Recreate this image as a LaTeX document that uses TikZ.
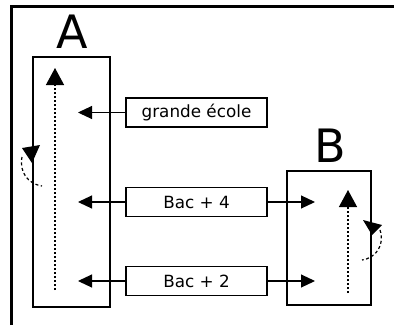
\documentclass[tikz,border=0pt]{standalone}
\usepackage{fontspec}
\setmainfont{DejaVu Sans}
\usetikzlibrary{arrows.meta}

\begin{document}
\begin{tikzpicture}[x=1pt,y=-1pt,
  box/.style={draw,line width=1.2pt,inner sep=0pt},
  level/.style={box,minimum width=141pt,minimum height=29pt,font=\fontsize{16.8}{20}\selectfont},
  letter/.style={anchor=base,inner sep=0pt,font=\fontsize{46}{50}\selectfont},
  flow/.style={line width=1.1pt,-{Triangle[length=14pt,width=13pt]}},
  rise/.style={line width=1.3pt,dash pattern=on 2.5pt off 1.5pt,-{Triangle[length=17pt,width=18pt]}},
  turn/.style={line width=1.2pt,dash pattern=on 3pt off 2.5pt}]
\useasboundingbox (0,0) rectangle (394,325);

% frame
\draw[line width=3pt] (11,325) -- (11,6.5) -- (394,6.5);

% the two schools
\node[box,minimum width=77pt,minimum height=250pt] (A) at (71.5,182) {};
\node[letter] (labA) at (72,48) {A};
\node[box,minimum width=84pt,minimum height=134pt] (B) at (329,238) {};
\node[letter] (labB) at (330,162) {B};

% entry levels
\node[level] (ge) at (196.5,112.5) {grande école};
\node[level] (bac4) at (196.5,202) {Bac + 4};
\node[level] (bac2) at (196.5,281) {Bac + 2};

\coordinate (inA) at (78,0);
\coordinate (inB) at (315,0);
\draw[flow] (ge.west) -- (ge.west -| inA);
\draw[flow] (bac4.west) -- (bac4.west -| inA);
\draw[flow] (bac2.west) -- (bac2.west -| inA);
\draw[flow] (bac4.east) -- (bac4.east -| inB);
\draw[flow] (bac2.east) -- (bac2.east -| inB);

% progress inside each school
\coordinate (a0) at (55,290);
\coordinate (a1) at (55,68);
\draw[rise] (a0) -- (a1);
\coordinate (b0) at (348,293);
\coordinate (b1) at (348,190);
\draw[rise] (b0) -- (b1);

% repeating a year
\draw[turn] (22,157) .. controls (19,172) and (28,184) .. (42,186);
\fill (22,148) -- (40,145) -- (32,163) -- cycle;
\draw[turn] (380,230) .. controls (385,245) and (376,258) .. (362,260);
\fill (363,220) -- (382,225) -- (372,235) -- cycle;
\end{tikzpicture}
\end{document}
